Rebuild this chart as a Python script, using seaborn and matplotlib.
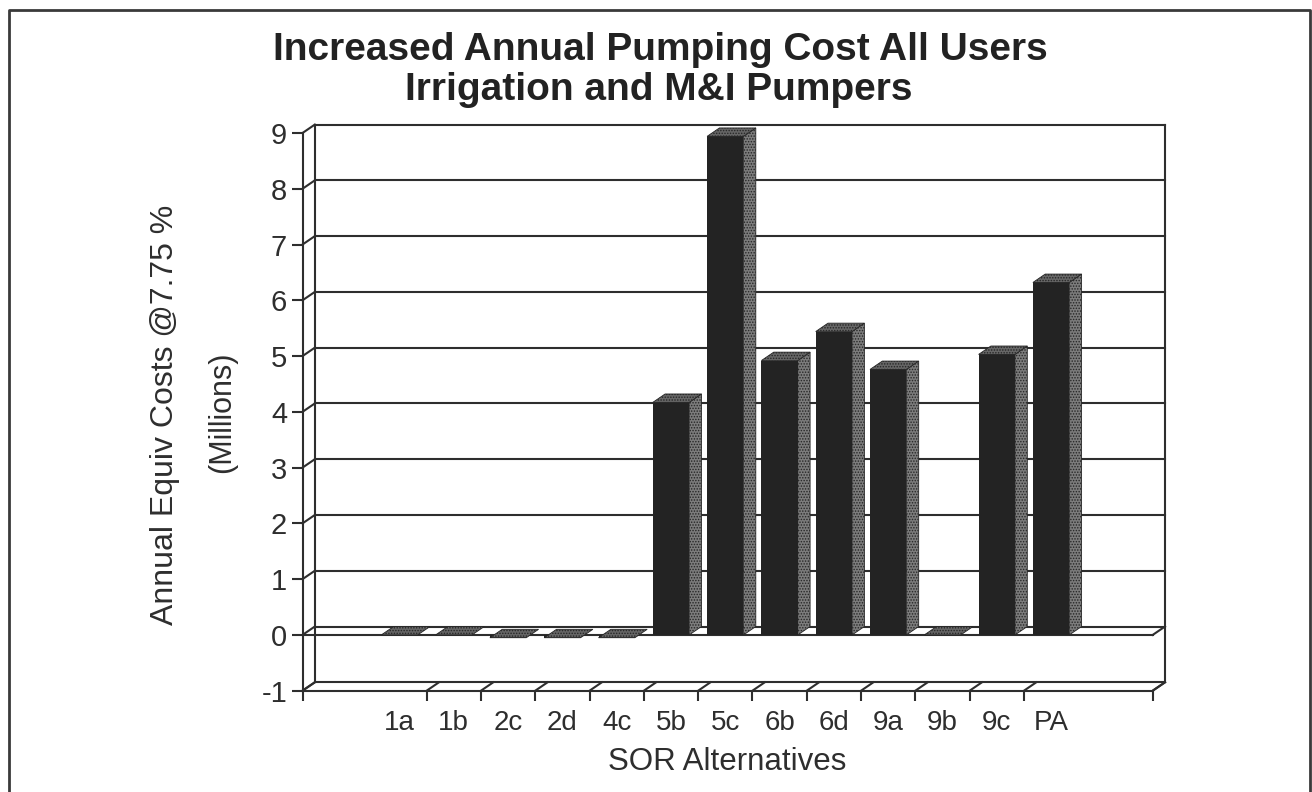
import matplotlib
matplotlib.use("Agg")
import matplotlib.pyplot as plt
from matplotlib.patches import Polygon
import seaborn as sns

alternatives = ["1a", "1b", "2c", "2d", "4c", "5b", "5c", "6b", "6d", "9a", "9b", "9c", "PA"]
costs = [0.0, 0.0, -0.05, -0.05, -0.05, 4.17, 8.94, 4.92, 5.44, 4.76, 0.0, 5.03, 6.32]
y_ticks = [-1, 0, 1, 2, 3, 4, 5, 6, 7, 8, 9]

INK = "#2e2e2e"
W, H = 1312, 792
sns.set_theme(style="white")
plt.rcParams["font.family"] = ["Liberation Sans", "DejaVu Sans"]
plt.rcParams["hatch.linewidth"] = 0.7
plt.rcParams["axes.unicode_minus"] = False

fig = plt.figure(figsize=(W / 100, H / 100), dpi=100, facecolor="white")
# Front plane of the pseudo-3D plot, in figure fractions
left, right, top, bottom = 302.5, 1152.7, 133.0, 690.7
ax = fig.add_axes([left / W, 1 - bottom / H, (right - left) / W, (bottom - top) / H])

sns.barplot(x=alternatives, y=costs, order=alternatives, color="#232323", saturation=1,
            width=0.67, ax=ax, zorder=5, linewidth=0)

slot = 54.3
ax.set_xlim((left - 399.5) / slot, (right - 399.5) / slot)
ax.set_ylim(-1, 9)
xmin, xmax = ax.get_xlim()

# Depth of the box expressed in data units
dx = 12.3 / slot
dy = 8.4 / 55.8
line = dict(color=INK, lw=1.5, clip_on=False, solid_capstyle="projecting")

# Back wall, floor and gridlines
for v in y_ticks:
    ax.plot([xmin + dx, xmax + dx], [v + dy, v + dy], zorder=1, **line)
    ax.plot([xmin, xmin + dx], [v, v + dy], zorder=1, **line)
ax.plot([xmin + dx, xmin + dx], [-1 + dy, 9 + dy], zorder=1, **line)
ax.plot([xmax + dx, xmax + dx], [-1 + dy, 9 + dy], zorder=1, **line)
ax.plot([xmax, xmax + dx], [-1, -1 + dy], zorder=1, **line)
ax.plot([xmin, xmax], [0, 0], zorder=2, **line)
ax.plot([xmax, xmax + dx], [0, dy], zorder=2, **line)

# Category boundaries on the floor
boundaries = [i + 0.5 for i in range(0, 12)] + [xmin, xmax]
for b in boundaries:
    ax.plot([b, b + dx], [-1, -1 + dy], zorder=1, **line)

# Side and top faces built from each drawn bar
for bar in ax.patches[: len(costs)]:
    x0, w = bar.get_x(), bar.get_width()
    v = bar.get_y() + bar.get_height()
    x1 = x0 + w
    if v > 0.1:
        ax.add_patch(Polygon([(x1, 0), (x1 + dx, dy), (x1 + dx, v + dy), (x1, v)], closed=True,
                             facecolor="#7c7c7c", edgecolor="#262626", hatch="......",
                             lw=0.6, zorder=4, clip_on=False))
    ax.add_patch(Polygon([(x0, v), (x1, v), (x1 + dx, v + dy), (x0 + dx, v + dy)], closed=True,
                         facecolor="#666666", edgecolor="#262626", hatch="......",
                         lw=0.6, zorder=6, clip_on=False))

for side in ("top", "right"):
    ax.spines[side].set_visible(False)
for side in ("left", "bottom"):
    ax.spines[side].set_visible(True)
    ax.spines[side].set_color(INK)
    ax.spines[side].set_linewidth(1.5)

ax.set_yticks(y_ticks)
ax.set_xticks(range(len(alternatives)))
ax.set_xticklabels(alternatives)
ax.set_xticks(boundaries, minor=True)
ax.tick_params(axis="x", which="major", length=0, pad=14, labelsize=20, labelcolor=INK)
ax.tick_params(axis="x", which="minor", length=7, width=1.5, color=INK, direction="out", bottom=True)
ax.tick_params(axis="y", length=8, width=1.5, color=INK, pad=3, labelsize=21, labelcolor=INK, left=True)
ax.set_xlabel("")
ax.set_ylabel("")
ax.patch.set_alpha(0)

# Text blocks
fig.text(660 / W, 1 - 50 / H, "Increased Annual Pumping Cost All Users", ha="center", va="center",
         fontsize=28, fontweight="bold", color="#222222")
fig.text(659 / W, 1 - 90 / H, "Irrigation and M&I Pumpers", ha="center", va="center",
         fontsize=28, fontweight="bold", color="#222222")
fig.text(165 / W, 1 - 415 / H, "Annual Equiv Costs @7.75 %", rotation=90, ha="center", va="center",
         fontsize=23, color=INK)
fig.text(222 / W, 1 - 412 / H, "(Millions)", rotation=90, ha="center", va="center",
         fontsize=22, color=INK)
fig.text(727 / W, 1 - 762 / H, "SOR Alternatives", ha="center", va="center", fontsize=22.5, color=INK)

# Outer frame, open at the lower edge
fig.add_artist(plt.Line2D([9 / W, 9 / W, 1310 / W, 1310 / W], [0, 1 - 9.5 / H, 1 - 9.5 / H, 0],
                          color="#3a3a3a", lw=2))

fig.savefig("out.png", dpi=100)
